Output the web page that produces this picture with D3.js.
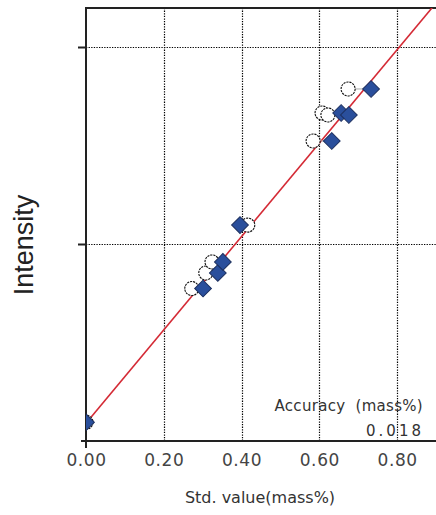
<!DOCTYPE html>
<html>
<head>
<meta charset="utf-8">
<script src="https://cdn.jsdelivr.net/npm/d3@7"></script>
<style>
  body { margin: 0; background: #fff; }
  svg { display: block; }
</style>
</head>
<body>
<svg></svg>
<script>
// measured std values (diamonds), calculated values (circles), intensity
const stdValue  = [0.000, 0.301, 0.339, 0.352, 0.396, 0.632, 0.656, 0.676, 0.733];
const calcValue = [0.000, 0.272, 0.308, 0.324, 0.416, 0.584, 0.607, 0.622, 0.674];
const intensity = [0.095, 0.774, 0.853, 0.909, 1.096, 1.523, 1.665, 1.655, 1.787];
const xTicks = [0, 0.2, 0.4, 0.6, 0.8];
const yTicks = [1, 2];
const fitIntercept = 0.09;
const fitSlope = 2.37;
const accuracy = "0.018";

const W = 436, H = 515;
let svg = d3.select("svg").attr("width", W).attr("height", H);

const pLeft = 86, pTop = 8, pBottom = 441, pRight = 436;
let x = d3.scaleLinear().domain([0, 0.9]).range([pLeft, pRight]);
let y = d3.scaleLinear().domain([0, 2.198]).range([pBottom, pTop]);

svg.append("clipPath").attr("id", "plotclip")
    .append("rect")
    .attr("x", pLeft).attr("y", pTop)
    .attr("width", pRight - pLeft).attr("height", pBottom - pTop);

// grid lines (dotted)
let grid = svg.append("g");
grid.selectAll(".vg").data(xTicks.slice(1)).enter().append("line")
    .attr("x1", d => Math.round(x(d)) + 0.5).attr("x2", d => Math.round(x(d)) + 0.5)
    .attr("y1", pTop).attr("y2", pBottom)
    .style("stroke", "#000").style("stroke-width", 1.2).style("stroke-dasharray", "1.3,1.3");
grid.selectAll(".hg").data(yTicks).enter().append("line")
    .attr("y1", d => Math.round(y(d)) + 0.5).attr("y2", d => Math.round(y(d)) + 0.5)
    .attr("x1", pLeft).attr("x2", pRight)
    .style("stroke", "#000").style("stroke-width", 1.2).style("stroke-dasharray", "1.3,1.3");

// frame: top border, left axis, bottom axis
svg.append("line").attr("x1", pLeft).attr("x2", pRight).attr("y1", pTop).attr("y2", pTop)
    .style("stroke", "#222").style("stroke-width", 2);

let yAxis = svg.append("g").attr("transform", `translate(${pLeft},0)`)
    .call(d3.axisLeft(y).tickValues(yTicks).tickSize(8).tickFormat(""));
yAxis.select(".domain").remove();
yAxis.selectAll(".tick line").style("stroke", "#222").style("stroke-width", 2);
svg.append("line").attr("x1", pLeft).attr("x2", pLeft).attr("y1", pTop - 1).attr("y2", pBottom + 7)
    .style("stroke", "#222").style("stroke-width", 2);

let xAxis = svg.append("g").attr("transform", `translate(0,${pBottom})`)
    .call(d3.axisBottom(x).tickValues(xTicks).tickSize(0).tickPadding(13)
        .tickFormat(d3.format(".2f")));
xAxis.select(".domain").remove();
xAxis.selectAll(".tick text")
    .style("font-family", "'DejaVu Sans', sans-serif")
    .style("font-size", "17px")
    .style("letter-spacing", "0.6px")
    .style("fill", "#444");
svg.append("line").attr("x1", pLeft - 5).attr("x2", pRight).attr("y1", pBottom).attr("y2", pBottom)
    .style("stroke", "#222").style("stroke-width", 2);

let plot = svg.append("g").attr("clip-path", "url(#plotclip)");

// calibration line
let fit = d3.line().x(d => x(d)).y(d => y(fitIntercept + fitSlope * d));
plot.append("path").datum([0, 0.9]).attr("d", fit)
    .style("fill", "none").style("stroke", "#d42a35").style("stroke-width", 1.6);

let pts = stdValue.map((s, i) => ({ s: s, c: calcValue[i], v: intensity[i] }));

// connectors between calculated and standard values
plot.selectAll(".link").data(pts).enter().append("line")
    .attr("x1", d => x(d.c)).attr("x2", d => x(d.s))
    .attr("y1", d => y(d.v)).attr("y2", d => y(d.v))
    .style("stroke", "#aaa").style("stroke-width", 1);

plot.selectAll(".calc").data(pts).enter().append("circle")
    .attr("cx", d => x(d.c)).attr("cy", d => y(d.v)).attr("r", 7)
    .style("fill", "#fff").style("stroke", "#111").style("stroke-width", 1.1)
    .style("stroke-dasharray", "2.2,0.9");

let diamond = d3.symbol().type(d3.symbolSquare).size(140);
plot.selectAll(".std").data(pts).enter().append("path")
    .attr("d", diamond)
    .attr("transform", d => `translate(${x(d.s)},${y(d.v)}) rotate(45)`)
    .style("fill", "#2a4f9c").style("stroke", "#1c2f5e").style("stroke-width", 1);

// accuracy text
let txt = svg.append("g")
    .style("font-family", "'DejaVu Sans', sans-serif")
    .style("font-size", "15px").style("fill", "#333");
txt.append("text").attr("x", 423).attr("y", 411).attr("text-anchor", "end")
    .style("letter-spacing", "0.3px")
    .text("Accuracy\u00a0\u00a0(mass%)");
txt.append("text").attr("x", 424).attr("y", 436).attr("text-anchor", "end")
    .style("letter-spacing", "3px").text(accuracy);

// axis titles
svg.append("text").attr("x", 260).attr("y", 503).attr("text-anchor", "middle")
    .style("font-family", "'DejaVu Sans', sans-serif").style("font-size", "16px")
    .style("fill", "#333").text("Std. value(mass%)");
svg.append("text").attr("transform", "translate(33,245) rotate(-90)")
    .attr("text-anchor", "middle")
    .style("font-family", "'Liberation Sans', Arial, sans-serif").style("font-size", "27px")
    .style("fill", "#222").text("Intensity");
</script>
</body>
</html>
